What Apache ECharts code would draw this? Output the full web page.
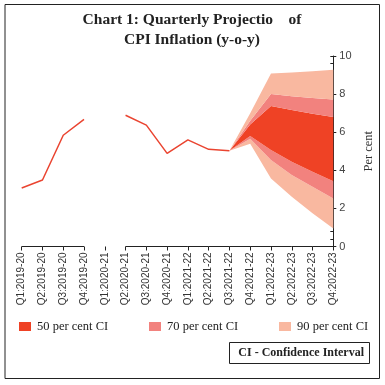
<!DOCTYPE html>
<html>
<head>
<meta charset="utf-8">
<script src="https://cdn.jsdelivr.net/npm/echarts@6/dist/echarts.min.js"></script>
<style>html,body{margin:0;padding:0;background:#fff}#c{width:385px;height:385px}</style>
</head>
<body>
<div id="c"></div>
<script>
const categories = ['Q1:2019-20','Q2:2019-20','Q3:2019-20','Q4:2019-20','Q1:2020-21','Q2:2020-21','Q3:2020-21','Q4:2020-21','Q1:2021-22','Q2:2021-22','Q3:2021-22','Q4:2021-22','Q1:2022-23','Q2:2022-23','Q3:2022-23','Q4:2022-23'];
const inflation = [3.07, 3.49, 5.84, 6.67, null, 6.89, 6.37, 4.89, 5.6, 5.1, 5.03, null, null, null, null, null];
const ci90Low  = [null,null,null,null,null,null,null,null,null,null, 5.03, 5.4, 3.57, 2.61, 1.75, 0.95];
const ci70Low  = [null,null,null,null,null,null,null,null,null,null, 5.03, 5.65, 4.54, 3.75, 3.14, 2.52];
const ci50Low  = [null,null,null,null,null,null,null,null,null,null, 5.03, 5.8, 5.06, 4.45, 3.92, 3.42];
const ci50High = [null,null,null,null,null,null,null,null,null,null, 5.03, 6.4, 7.38, 7.16, 6.97, 6.8];
const ci70High = [null,null,null,null,null,null,null,null,null,null, 5.03, 6.6, 8.0, 7.89, 7.79, 7.72];
const ci90High = [null,null,null,null,null,null,null,null,null,null, 5.03, 7.0, 9.08, 9.13, 9.2, 9.28];
const yTicks = [0, 2, 4, 6, 8, 10];
const gapCategory = 'Q1:2020-21';

const C50 = '#EF4225', C70 = '#F2827E', C90 = '#F9B8A0';
const diff = (a, b) => a.map((v, i) => (v == null || b[i] == null) ? null : +(v - b[i]).toFixed(3));
const zeroLine = categories.map(c => c === gapCategory ? null : 0);

function band(name, data, color) {
  return {
    name: name, type: 'line', stack: 'fan', data: data, symbol: 'none', silent: true,
    lineStyle: { width: 0, color: color }, itemStyle: { color: color },
    areaStyle: { color: color, opacity: 1 }, z: 2
  };
}

const chart = echarts.init(document.getElementById('c'), null, { renderer: 'canvas' });
const serif = 'Liberation Serif';
const sans = 'Liberation Sans';
chart.setOption({
  animation: false,
  title: {
    text: 'Chart 1: Quarterly Projectio    of\nCPI Inflation (y-o-y)',
    left: 192, top: 10, textAlign: 'center', padding: 0,
    textStyle: { fontFamily: serif, fontWeight: 'bold', fontSize: 15.5, lineHeight: 20, color: '#222' }
  },
  legend: [
    { data: ['50 per cent CI'], left: 19, top: 320 },
    { data: ['70 per cent CI'], left: 149, top: 320 },
    { data: ['90 per cent CI'], left: 279, top: 320 }
  ].map(l => Object.assign(l, {
    icon: 'rect', itemWidth: 12, itemHeight: 9, itemGap: 6, selectedMode: false, padding: 0,
    textStyle: { fontFamily: serif, fontSize: 12.5, color: '#222', padding: [0, 0, 0, 1] }
  })),
  grid: { left: 21.7, right: 51.7, top: 56, bottom: 138.5, containLabel: false },
  xAxis: {
    type: 'category', data: categories, boundaryGap: false,
    axisLine: { show: false },
    axisTick: { show: true, length: 4, lineStyle: { color: '#222', width: 1 } },
    axisLabel: { rotate: 90, interval: 0, fontFamily: sans, fontSize: 10, color: '#333', margin: 6 },
    splitLine: { show: false }
  },
  yAxis: [
    {
      type: 'value', position: 'right', min: 0, max: 10, interval: 2,
      name: 'Per cent', nameLocation: 'middle', nameGap: 28, nameRotate: 90,
      nameTextStyle: { fontFamily: serif, fontSize: 12.5, color: '#333' },
      axisLine: { show: true, lineStyle: { color: '#222', width: 1 } },
      axisTick: { show: true, inside: true, length: 3, lineStyle: { color: '#222' } },
      minorTick: { show: true, splitNumber: 5, length: 3, lineStyle: { color: '#222' } },
      axisLabel: { fontFamily: sans, fontSize: 11, color: '#444', margin: 6,
        formatter: v => yTicks.includes(v) ? String(v) : '' },
      splitLine: { show: false }
    },
    {
      type: 'value', position: 'right', min: 0, max: 10, interval: 2,
      axisLine: { show: false },
      axisTick: { show: true, inside: false, length: 3, lineStyle: { color: '#222' } },
      axisLabel: { show: false }, splitLine: { show: false }
    }
  ],
  series: [
    { name: 'base', type: 'line', stack: 'fan', data: ci90Low, symbol: 'none', silent: true,
      lineStyle: { width: 0 }, z: 2 },
    band('90 per cent CI', diff(ci70Low, ci90Low), C90),
    band('70 per cent CI', diff(ci50Low, ci70Low), C70),
    band('50 per cent CI', diff(ci50High, ci50Low), C50),
    band('70 per cent CI', diff(ci70High, ci50High), C70),
    band('90 per cent CI', diff(ci90High, ci70High), C90),
    { name: 'CPI', type: 'line', data: inflation, symbol: 'none', silent: true, connectNulls: false,
      lineStyle: { color: '#EA4430', width: 1.5 }, z: 3 },
    { name: 'axis', type: 'line', data: zeroLine, symbol: 'none', silent: true, connectNulls: false,
      lineStyle: { color: '#222', width: 1 }, z: 4 }
  ],
  graphic: [
    { type: 'rect', shape: { x: 5, y: 4.5, width: 374.5, height: 374 }, style: { fill: null, stroke: '#222', lineWidth: 1 }, z: 10 },
    { type: 'rect', shape: { x: 229.5, y: 342.5, width: 140, height: 21 }, style: { fill: '#fff', stroke: '#222', lineWidth: 1 }, z: 10 },
    { type: 'text', x: 364, y: 353, style: { text: 'CI - Confidence Interval', fill: '#222', font: 'bold 12px "Liberation Serif"', textAlign: 'right', textVerticalAlign: 'middle' }, z: 11 }
  ]
});
</script>
</body>
</html>
